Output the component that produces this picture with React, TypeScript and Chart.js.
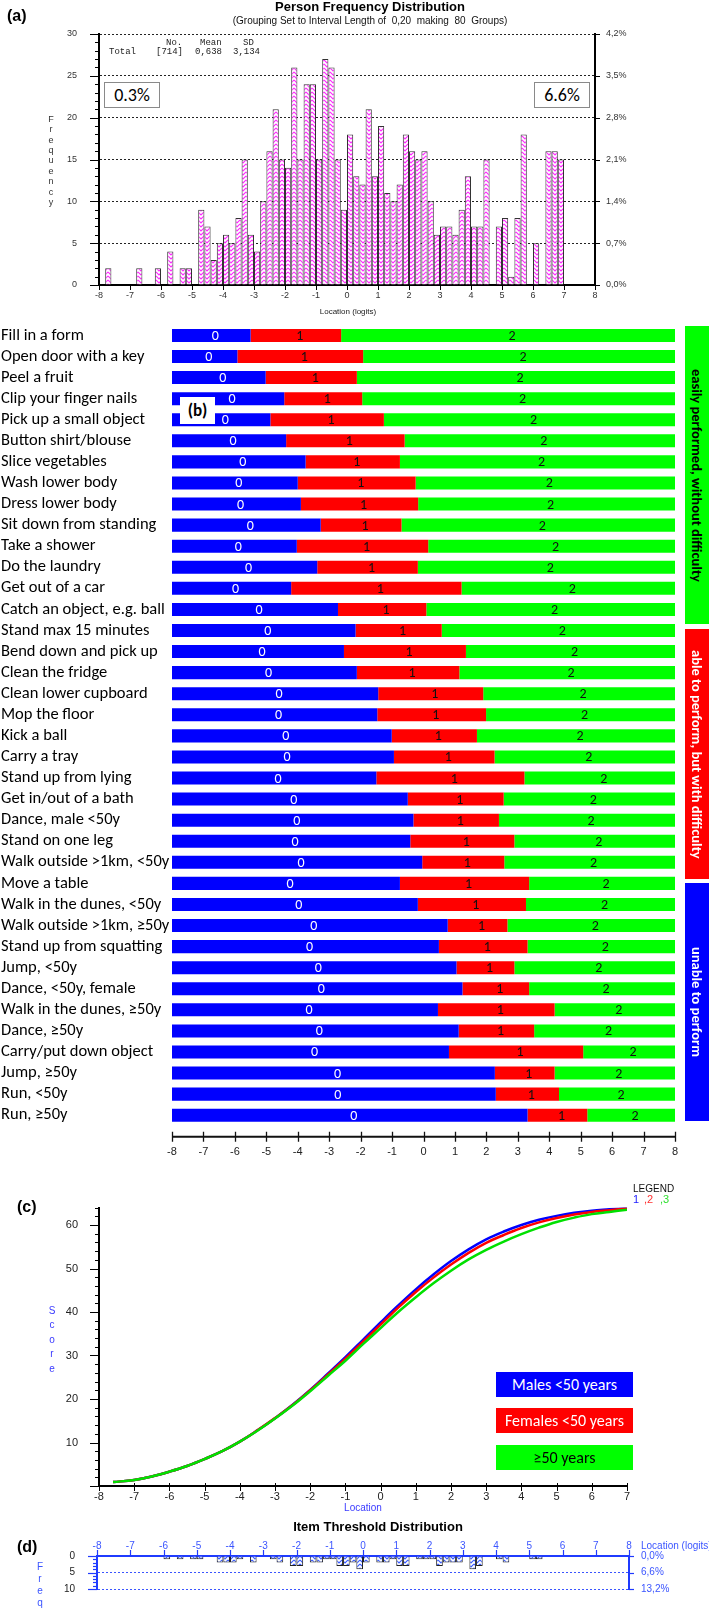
import React, { useEffect, useRef } from 'react';
import { Chart, registerables } from 'chart.js';

Chart.register(...registerables);

const SANS = '"Liberation Sans", Arial, sans-serif';
const CAL = 'Carlito, Lato, "Open Sans", sans-serif';
const MONO = '"Liberation Mono", "Courier New", monospace';

// ---------- (a) Person Frequency Distribution ----------
const personBinStart = -8;
const personBinWidth = 0.2;
const personCounts = [
  0, 2, 0, 0, 0, 0, 2, 0, 0, 2,
  0, 4, 0, 2, 2, 0, 9, 7, 3, 5,
  6, 5, 8, 15, 6, 4, 10, 16, 21, 15,
  14, 26, 15, 24, 24, 15, 27, 26, 15, 9,
  18, 13, 12, 21, 13, 19, 11, 10, 12, 18,
  16, 15, 16, 10, 6, 7, 7, 6, 9, 13,
  7, 7, 15, 0, 7, 8, 1, 8, 18, 0,
  5, 0, 16, 16, 15, 0, 0, 0, 0, 0,
];
const personPctLabels = ['0,0%', '0,7%', '1,4%', '2,1%', '2,8%', '3,5%', '4,2%'];
const logitTicks = [-8, -7, -6, -5, -4, -3, -2, -1, 0, 1, 2, 3, 4, 5, 6, 7, 8];

// ---------- (b) Item thresholds ----------
const items = [
  'Fill in a form', 'Open door with a key', 'Peel a fruit', 'Clip your finger nails',
  'Pick up a small object', 'Button shirt/blouse', 'Slice vegetables', 'Wash lower body',
  'Dress lower body', 'Sit down from standing', 'Take a shower', 'Do the laundry',
  'Get out of a car', 'Catch an object, e.g. ball', 'Stand max 15 minutes', 'Bend down and pick up',
  'Clean the fridge', 'Clean lower cupboard', 'Mop the floor', 'Kick a ball',
  'Carry a tray', 'Stand up from lying', 'Get in/out of a bath', 'Dance, male <50y',
  'Stand on one leg', 'Walk outside >1km, <50y', 'Move a table', 'Walk in the dunes, <50y',
  'Walk outside >1km, \u226550y', 'Stand up from squatting', 'Jump, <50y', 'Dance, <50y, female',
  'Walk in the dunes, \u226550y', 'Dance, \u226550y', 'Carry/put down object', 'Jump, \u226550y',
  'Run, <50y', 'Run, \u226550y',
];
const threshold1 = [
  -5.50, -5.92, -5.02, -4.43, -4.87, -4.37, -3.75, -4.00, -3.90, -3.27,
  -4.03, -3.38, -4.21, -2.72, -2.16, -2.53, -2.12, -1.44, -1.47, -1.01,
  -0.94, -1.50, -0.50, -0.32, -0.42, -0.04, -0.75, -0.18, 0.77, 0.49,
  1.05, 1.24, 0.46, 1.12, 0.81, 2.27, 2.30, 3.31,
];
const threshold2 = [
  -2.62, -1.92, -2.12, -1.95, -1.26, -0.60, -0.75, -0.25, -0.17, -0.70,
  0.15, -0.18, 1.21, 0.09, 0.58, 1.35, 1.14, 1.90, 1.99, 1.70,
  2.26, 3.21, 2.55, 2.40, 2.89, 2.57, 3.36, 3.26, 2.67, 3.31,
  2.89, 3.36, 4.17, 3.52, 5.08, 4.17, 4.31, 5.21,
];
const categoryLabels = ['0', '1', '2'];

// ---------- (c) Test characteristic curves ----------
const tccX = [-7.6, -7, -6.5, -6, -5.5, -5, -4.5, -4, -3.5, -3, -2.5, -2, -1.5, -1, -0.5, 0, 0.5, 1, 1.5, 2, 2.5, 3, 3.5, 4, 4.5, 5, 5.5, 6, 6.5, 7];
const tccMales = [0.9, 1.4, 2.2, 3.3, 4.6, 6.2, 8.0, 10.2, 12.8, 15.6, 18.7, 22.1, 25.8, 29.6, 33.6, 37.6, 41.5, 45.2, 48.6, 51.7, 54.4, 56.7, 58.5, 60.0, 61.2, 62.1, 62.8, 63.3, 63.6, 63.9];
const tccFemales = [0.9, 1.4, 2.2, 3.3, 4.6, 6.2, 8.0, 10.2, 12.8, 15.6, 18.6, 22.0, 25.6, 29.3, 33.2, 37.1, 41.0, 44.6, 47.9, 50.9, 53.6, 55.9, 57.7, 59.3, 60.6, 61.6, 62.4, 63.0, 63.4, 63.8];
const tccOlder = [0.9, 1.4, 2.2, 3.3, 4.6, 6.2, 8.0, 10.2, 12.7, 15.5, 18.5, 21.8, 25.3, 28.8, 32.6, 36.3, 40.0, 43.4, 46.6, 49.5, 52.1, 54.3, 56.2, 57.9, 59.4, 60.7, 61.7, 62.5, 63.0, 63.5];
const tccGroups = ['Males <50 years', 'Females <50 years', '\u226550 years'];

// ---------- (d) Item Threshold Distribution ----------
const itemBinStart = -8;
const itemBinWidth = 0.2;
const itemCounts = [
  0, 0, 0, 0, 0, 0, 0, 0, 0, 0,
  1, 0, 1, 0, 1, 1, 0, 0, 2, 2,
  2, 1, 0, 2, 0, 0, 1, 2, 0, 3,
  3, 0, 2, 2, 1, 1, 3, 3, 2, 4,
  2, 0, 2, 2, 1, 3, 3, 0, 1, 1,
  1, 3, 2, 2, 2, 0, 4, 3, 0, 0,
  1, 2, 0, 0, 0, 1, 1, 0, 0, 0,
  0, 0, 0, 0, 0, 0, 0, 0, 0, 0,
];
const itemPctLabels = ['0,0%', '6,6%', '13,2%'];

// ---------- helpers ----------
function chevronPattern(color: string, width: number) {
  const c = document.createElement('canvas');
  c.width = 6;
  c.height = 4;
  const g = c.getContext('2d')!;
  g.fillStyle = '#ffffff';
  g.fillRect(0, 0, 6, 4);
  g.strokeStyle = color;
  g.lineWidth = width;
  for (const off of [-4, 0, 4]) {
    g.beginPath();
    g.moveTo(0, off);
    g.lineTo(3, off + 3);
    g.lineTo(6, off);
    g.stroke();
  }
  return g.createPattern(c, 'repeat')!;
}

function seg(ctx: CanvasRenderingContext2D, x1: number, y1: number, x2: number, y2: number) {
  ctx.beginPath();
  ctx.moveTo(x1, y1);
  ctx.lineTo(x2, y2);
  ctx.stroke();
}

const pxr = (v: number) => Math.round(v) + 0.5;

function ChartBox({ left, top, width, height, build }: any) {
  const ref = useRef<HTMLCanvasElement>(null);
  useEffect(() => {
    const chart = new Chart(ref.current!, build());
    return () => chart.destroy();
  }, []);
  return (
    <div style={{ position: 'absolute', left, top, width, height }}>
      <canvas ref={ref} width={width} height={height} style={{ width, height, display: 'block' }} />
    </div>
  );
}

const noLegend = { legend: { display: false }, tooltip: { enabled: false } };

// ---------- (a) ----------
function buildA(): any {
  const pink = chevronPattern('#ff2cff', 1.2);
  const ticksA = {
    id: 'ticksA',
    afterDraw(chart: any) {
      const { ctx, chartArea: a, scales } = chart;
      ctx.save();
      ctx.strokeStyle = '#000';
      ctx.lineWidth = 1;
      for (let v = 0; v <= 30; v++) {
        const y = pxr(scales.y.getPixelForValue(v));
        seg(ctx, a.left - (v % 5 === 0 ? 9 : 4), y, a.left, y);
      }
      for (let v = 0; v <= 30; v += 5) {
        const y = pxr(scales.y.getPixelForValue(v));
        seg(ctx, a.right, y, a.right + 5, y);
      }
      logitTicks.forEach((v) => {
        const x = pxr(scales.x.getPixelForValue(v));
        seg(ctx, x, a.bottom, x, a.bottom + 5);
      });
      ctx.restore();
    },
  };
  return {
    type: 'bar',
    data: {
      datasets: [
        {
          data: personCounts.map((c, i) => ({ x: personBinStart + personBinWidth * (i + 0.5), y: c })),
          backgroundColor: pink,
          borderColor: '#333',
          borderWidth: 1,
          borderSkipped: 'bottom',
          barPercentage: 1,
          categoryPercentage: 1,
          inflateAmount: 0,
          yAxisID: 'y',
        },
      ],
    },
    options: {
      responsive: false,
      animation: false,
      events: [],
      devicePixelRatio: 1,
      layout: { padding: { top: 34, left: 0, right: 0, bottom: 0 } },
      plugins: noLegend,
      scales: {
        x: {
          type: 'linear', min: -8, max: 8, offset: false,
          afterBuildTicks: (s: any) => { s.ticks = logitTicks.map((v) => ({ value: v })); },
          ticks: { color: '#333', font: { family: SANS, size: 9 }, padding: 5, maxRotation: 0, autoSkip: false },
          grid: { display: true, drawOnChartArea: false, drawTicks: false },
          border: { color: '#000', width: 2 },
          afterFit: (s: any) => { s.height = 35; },
        },
        y: {
          position: 'left', min: 0, max: 30,
          ticks: { stepSize: 5, color: '#333', font: { family: SANS, size: 9 }, padding: 22 },
          grid: { color: (c: any) => (c.tick && c.tick.value > 0 ? '#222' : 'rgba(0,0,0,0)'), lineWidth: 1, drawTicks: false },
          border: { color: '#000', width: 2, dash: [2, 2] },
          afterFit: (s: any) => { s.width = 99; },
        },
        y2: {
          position: 'right', min: 0, max: 30,
          ticks: { stepSize: 5, color: '#333', font: { family: SANS, size: 9 }, padding: 11, callback: (v: number) => personPctLabels[Math.round(v / 5)] },
          grid: { drawOnChartArea: false, drawTicks: false },
          border: { color: '#000', width: 2 },
          afterFit: (s: any) => { s.width = 114; },
        },
      },
    },
    plugins: [ticksA],
  };
}

// ---------- (b) ----------
function buildB(): any {
  const segLabels = {
    id: 'segLabels',
    afterDatasetsDraw(chart: any) {
      const ctx = chart.ctx;
      ctx.save();
      ctx.font = `14px ${CAL}`;
      ctx.textAlign = 'center';
      ctx.textBaseline = 'middle';
      [0, 1, 2].forEach((di) => {
        chart.getDatasetMeta(di).data.forEach((el: any) => {
          ctx.fillStyle = di === 0 ? '#ffffff' : '#111';
          ctx.fillText(categoryLabels[di], (el.x + el.base) / 2 + 4, el.y + 1);
        });
      });
      ctx.restore();
    },
  };
  const axisB = {
    id: 'axisB',
    afterDraw(chart: any) {
      const { ctx, chartArea: a, scales } = chart;
      const y0 = a.bottom + 11;
      ctx.save();
      ctx.strokeStyle = '#111';
      ctx.lineWidth = 2;
      seg(ctx, scales.x.getPixelForValue(-8), y0, scales.x.getPixelForValue(8), y0);
      ctx.lineWidth = 1.3;
      logitTicks.forEach((v) => {
        const x = pxr(scales.x.getPixelForValue(v));
        seg(ctx, x, y0 - 5, x, y0 + 5);
      });
      ctx.restore();
    },
  };
  const common = { grouped: false, barPercentage: 0.62, categoryPercentage: 1, borderWidth: 0, inflateAmount: 0 };
  return {
    type: 'bar',
    data: {
      labels: items,
      datasets: [
        { ...common, data: threshold1.map((t) => [-8, t]), backgroundColor: '#0000ff' },
        { ...common, data: threshold1.map((t, i) => [t, threshold2[i]]), backgroundColor: '#ff0000' },
        { ...common, data: threshold2.map((t) => [t, 8]), backgroundColor: '#00ff00' },
      ],
    },
    options: {
      indexAxis: 'y',
      responsive: false,
      animation: false,
      events: [],
      devicePixelRatio: 1,
      layout: { padding: { top: 7.4, left: 1, right: 34, bottom: 0 } },
      plugins: noLegend,
      scales: {
        y: {
          type: 'category',
          ticks: { autoSkip: false, crossAlign: 'far', color: '#000', font: { family: CAL, size: 16.5 }, padding: 0 },
          grid: { display: true, drawOnChartArea: false, drawTicks: false },
          border: { display: false },
          afterFit: (s: any) => { s.width = 171; },
        },
        x: {
          type: 'linear', min: -8, max: 8,
          afterBuildTicks: (s: any) => { s.ticks = logitTicks.map((v) => ({ value: v })); },
          ticks: { color: '#222', font: { family: SANS, size: 11 }, padding: 20, maxRotation: 0, autoSkip: false },
          grid: { display: true, drawOnChartArea: false, drawTicks: false },
          border: { display: false },
          afterFit: (s: any) => { s.height = 49.25; },
        },
      },
    },
    plugins: [segLabels, axisB],
  };
}

// ---------- (c) ----------
function buildC(): any {
  const ticksC = {
    id: 'ticksC',
    afterDraw(chart: any) {
      const { ctx, chartArea: a, scales } = chart;
      ctx.save();
      ctx.strokeStyle = '#000';
      ctx.lineWidth = 1;
      for (let v = 0; v <= 64; v += 2) {
        const y = pxr(scales.y.getPixelForValue(v));
        seg(ctx, a.left - (v % 10 === 0 ? 9 : 4), y, a.left, y);
      }
      for (let v = -8; v <= 7; v++) {
        const x = pxr(scales.x.getPixelForValue(v));
        seg(ctx, x, a.bottom - 3, x, a.bottom + 5);
      }
      ctx.restore();
    },
  };
  const mk = (vals: number[], color: string, order: number) => ({
    data: tccX.map((x, i) => ({ x, y: vals[i] })),
    borderColor: color,
    borderWidth: 2.5,
    pointRadius: 0,
    tension: 0.4,
    fill: false,
    order,
  });
  return {
    type: 'line',
    data: {
      datasets: [
        { ...mk(tccMales, '#0000ff', 2), label: tccGroups[0] },
        { ...mk(tccFemales, '#ff0000', 1), label: tccGroups[1] },
        { ...mk(tccOlder, '#00e000', 0), label: tccGroups[2] },
      ],
    },
    options: {
      responsive: false,
      animation: false,
      events: [],
      devicePixelRatio: 1,
      layout: { padding: { top: 18, left: 0, right: 82, bottom: 0 } },
      plugins: noLegend,
      scales: {
        x: {
          type: 'linear', min: -8, max: 7,
          afterBuildTicks: (s: any) => { s.ticks = logitTicks.filter((v) => v <= 7).map((v) => ({ value: v })); },
          ticks: { color: '#222', font: { family: SANS, size: 11 }, padding: 4, maxRotation: 0, autoSkip: false },
          grid: { display: true, drawOnChartArea: false, drawTicks: false },
          border: { color: '#000', width: 2 },
          afterFit: (s: any) => { s.height = 34; },
        },
        y: {
          min: 0, max: 64,
          ticks: { stepSize: 10, color: '#222', font: { family: SANS, size: 11 }, padding: 21, callback: (v: number) => (v > 0 && v % 10 === 0 ? String(v) : '') },
          grid: { display: true, drawOnChartArea: false, drawTicks: false },
          border: { color: '#000', width: 2 },
          afterFit: (s: any) => { s.width = 99; },
        },
      },
    },
    plugins: [ticksC],
  };
}

// ---------- (d) ----------
function buildD(): any {
  const blue = chevronPattern('#3a5cff', 1.2);
  const ticksD = {
    id: 'ticksD',
    afterDraw(chart: any) {
      const { ctx, chartArea: a, scales } = chart;
      ctx.save();
      ctx.strokeStyle = '#1f3bff';
      ctx.lineWidth = 1.2;
      logitTicks.forEach((v) => {
        const x = pxr(scales.x.getPixelForValue(v));
        seg(ctx, x, a.top - 6, x, a.top);
      });
      for (let v = 0; v <= 10; v++) {
        const y = pxr(scales.y.getPixelForValue(v));
        seg(ctx, a.left - (v % 5 === 0 ? 9 : 4), y, a.left, y);
      }
      for (let v = 0; v <= 10; v += 5) {
        const y = pxr(scales.y.getPixelForValue(v));
        seg(ctx, a.right, y, a.right + 5, y);
      }
      ctx.restore();
    },
  };
  return {
    type: 'bar',
    data: {
      datasets: [
        {
          data: itemCounts.map((c, i) => ({ x: itemBinStart + itemBinWidth * (i + 0.5), y: c })),
          backgroundColor: blue,
          borderColor: '#222',
          borderWidth: 1,
          barPercentage: 1,
          categoryPercentage: 1,
          inflateAmount: 0,
          yAxisID: 'y',
        },
      ],
    },
    options: {
      responsive: false,
      animation: false,
      events: [],
      devicePixelRatio: 1,
      layout: { padding: { top: 0, left: 0, right: 0, bottom: 7 } },
      plugins: noLegend,
      scales: {
        x: {
          type: 'linear', position: 'top', min: -8, max: 8, offset: false,
          afterBuildTicks: (s: any) => { s.ticks = logitTicks.map((v) => ({ value: v })); },
          ticks: { color: '#3b55ff', font: { family: SANS, size: 10 }, padding: 4, maxRotation: 0, autoSkip: false },
          grid: { display: true, drawOnChartArea: false, drawTicks: false },
          border: { color: '#1f3bff', width: 2 },
          afterFit: (s: any) => { s.height = 36; },
        },
        y: {
          position: 'left', reverse: true, min: 0, max: 10,
          ticks: { stepSize: 5, color: '#222', font: { family: SANS, size: 10 }, padding: 22 },
          grid: { color: (c: any) => (c.tick && c.tick.value > 0 ? '#3b55ff' : 'rgba(0,0,0,0)'), lineWidth: 1, drawTicks: false },
          border: { color: '#1f3bff', width: 2, dash: [2, 2] },
          afterFit: (s: any) => { s.width = 97; },
        },
        y2: {
          position: 'right', reverse: true, min: 0, max: 10,
          ticks: { stepSize: 5, color: '#3b55ff', font: { family: SANS, size: 10 }, padding: 12, callback: (v: number) => itemPctLabels[Math.round(v / 5)] },
          grid: { drawOnChartArea: false, drawTicks: false },
          border: { color: '#1f3bff', width: 2 },
          afterFit: (s: any) => { s.width = 80; },
        },
      },
    },
    plugins: [ticksD],
  };
}

// ---------- HTML text helpers ----------
const abs = (style: any): any => ({ position: 'absolute', whiteSpace: 'pre', ...style });

function VLetters({ text, cx, firstCenter, step, color, size }: any) {
  return (
    <div style={abs({ left: cx - 8, top: firstCenter - step / 2, width: 16, textAlign: 'center', color, font: `${size}px ${SANS}`, lineHeight: `${step}px` })}>
      {text.split('').map((ch: string, i: number) => (
        <div key={i}>{ch}</div>
      ))}
    </div>
  );
}

function SideBox({ top, height, bg, color, text }: any) {
  return (
    <div
      style={abs({
        left: 685, top, width: 24, height, background: bg, color,
        display: 'flex', alignItems: 'center', justifyContent: 'center',
      })}
    >
      <span style={{ writingMode: 'vertical-rl', font: `bold 14.5px ${CAL}`, lineHeight: '24px' }}>{text}</span>
    </div>
  );
}

function LegendBox({ top, bg, color, text }: any) {
  return (
    <div
      style={abs({
        left: 496, top, width: 137, height: 25, background: bg, color,
        font: `16px ${CAL}`, lineHeight: '25px', textAlign: 'center',
      })}
    >
      {text}
    </div>
  );
}

export default function App() {
  return (
    <div style={{ position: 'absolute', left: 0, top: 0, width: 709, height: 1617, background: '#fff', overflow: 'hidden' }}>
      {/* (a) */}
      <ChartBox left={0} top={0} width={709} height={320} build={buildA} />
      <div style={abs({ left: 7, top: 8, font: `bold 16px ${SANS}`, lineHeight: '16px' })}>(a)</div>
      <div style={abs({ left: 220, top: 0, width: 300, textAlign: 'center', font: `bold 13px ${SANS}`, lineHeight: '13px' })}>Person Frequency Distribution</div>
      <div style={abs({ left: 220, top: 15, width: 300, textAlign: 'center', font: `10px ${SANS}`, lineHeight: '12px', color: '#111' })}>(Grouping Set to Interval Length of  0,20  making  80  Groups)</div>
      <div style={abs({ left: 166, top: 38, font: `9px ${MONO}`, lineHeight: '10px', color: '#222' })}>No.</div>
      <div style={abs({ left: 200, top: 38, font: `9px ${MONO}`, lineHeight: '10px', color: '#222' })}>Mean</div>
      <div style={abs({ left: 243, top: 38, font: `9px ${MONO}`, lineHeight: '10px', color: '#222' })}>SD</div>
      <div style={abs({ left: 109, top: 47, font: `9px ${MONO}`, lineHeight: '10px', color: '#222' })}>Total</div>
      <div style={abs({ left: 156, top: 47, font: `9px ${MONO}`, lineHeight: '10px', color: '#222' })}>[714]</div>
      <div style={abs({ left: 195, top: 47, font: `9px ${MONO}`, lineHeight: '10px', color: '#222' })}>0,638</div>
      <div style={abs({ left: 233, top: 47, font: `9px ${MONO}`, lineHeight: '10px', color: '#222' })}>3,134</div>
      <div style={abs({ left: 104, top: 82, width: 54, height: 24, border: '1px solid #8a8a8a', background: '#fff', textAlign: 'center', font: `18px ${CAL}`, lineHeight: '24px' })}>0.3%</div>
      <div style={abs({ left: 534, top: 82, width: 54, height: 24, border: '1px solid #8a8a8a', background: '#fff', textAlign: 'center', font: `18px ${CAL}`, lineHeight: '24px' })}>6.6%</div>
      <VLetters text="Frequency" cx={51} firstCenter={119} step={10.4} color="#333" size={9} />
      <div style={abs({ left: 298, top: 306, width: 100, textAlign: 'center', font: `8px ${SANS}`, lineHeight: '12px', color: '#222' })}>Location (logits)</div>

      {/* (b) */}
      <ChartBox left={0} top={315} width={709} height={860} build={buildB} />
      <div style={abs({ left: 180, top: 397, width: 35, height: 27, background: '#fff', textAlign: 'center', font: `bold 17px ${CAL}`, lineHeight: '27px' })}>(b)</div>
      <SideBox top={326} height={298} bg="#00ff00" color="#000" text="easily performed, without difficulty" />
      <SideBox top={629} height={250} bg="#ff0000" color="#fff" text="able to perform, but with difficulty" />
      <SideBox top={883} height={238} bg="#0000ff" color="#fff" text="unable to perform" />

      {/* (c) */}
      <ChartBox left={0} top={1180} width={709} height={340} build={buildC} />
      <div style={abs({ left: 17, top: 1199, font: `bold 16px ${SANS}`, lineHeight: '16px' })}>(c)</div>
      <VLetters text="Score" cx={52} firstCenter={1311} step={14.6} color="#3b3bff" size={10} />
      <div style={abs({ left: 313, top: 1502, width: 100, textAlign: 'center', font: `10px ${SANS}`, lineHeight: '12px', color: '#3b3bff' })}>Location</div>
      <div style={abs({ left: 633, top: 1183, font: `10px ${SANS}`, lineHeight: '12px', color: '#111' })}>LEGEND</div>
      <div style={abs({ left: 633, top: 1193, font: `11px ${SANS}`, lineHeight: '12px', color: '#2020ff' })}>1</div>
      <div style={abs({ left: 644, top: 1193, font: `11px ${SANS}`, lineHeight: '12px', color: '#ff3030' })}>,2</div>
      <div style={abs({ left: 660, top: 1193, font: `11px ${SANS}`, lineHeight: '12px', color: '#30e030' })}>,3</div>
      <LegendBox top={1372} bg="#0000ff" color="#fff" text={tccGroups[0]} />
      <LegendBox top={1408} bg="#ff0000" color="#fff" text={tccGroups[1]} />
      <LegendBox top={1445} bg="#00ff00" color="#000" text={tccGroups[2]} />

      {/* (d) */}
      <ChartBox left={0} top={1520} width={709} height={97} build={buildD} />
      <div style={abs({ left: 228, top: 1520, width: 300, textAlign: 'center', font: `bold 13px ${SANS}`, lineHeight: '14px' })}>Item Threshold Distribution</div>
      <div style={abs({ left: 17, top: 1539, font: `bold 16px ${SANS}`, lineHeight: '16px' })}>(d)</div>
      <div style={abs({ left: 641, top: 1540, font: `10px ${SANS}`, lineHeight: '12px', color: '#3b55ff' })}>Location (logits)</div>
      <VLetters text="Freq" cx={40} firstCenter={1567} step={12} color="#3b55ff" size={10} />
    </div>
  );
}
